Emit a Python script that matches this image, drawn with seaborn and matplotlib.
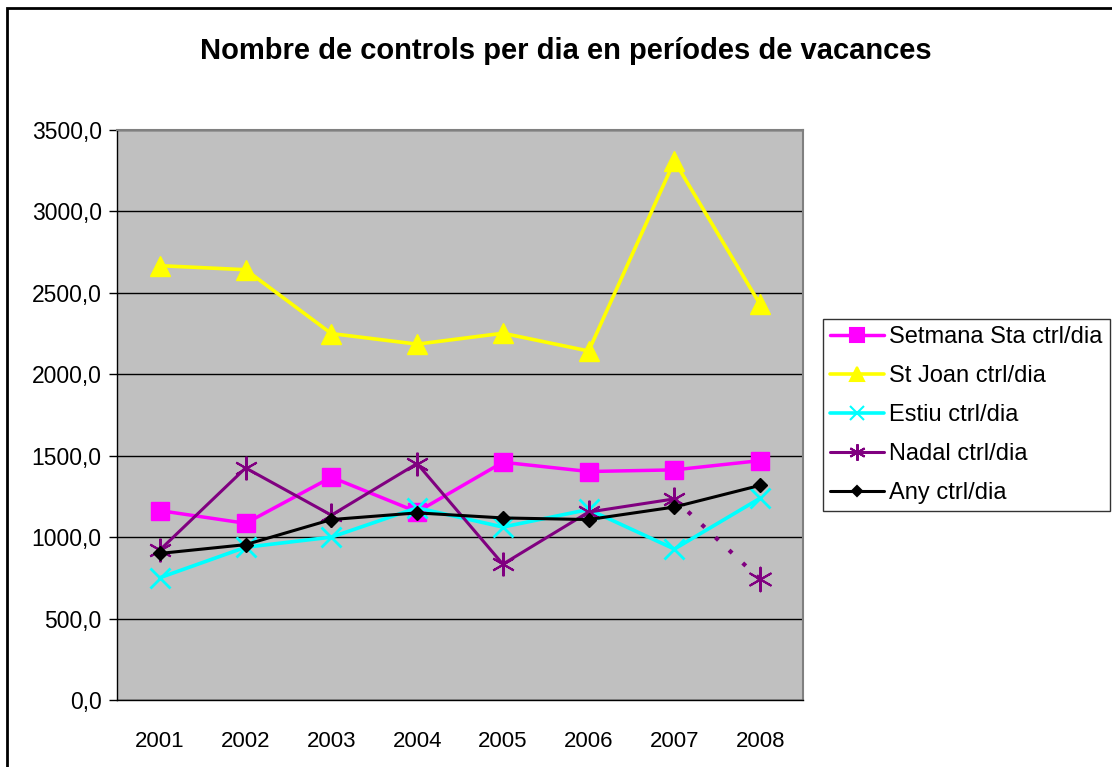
import matplotlib
matplotlib.use("Agg")
import matplotlib.pyplot as plt
import matplotlib.patches as mpatches
from matplotlib.ticker import FuncFormatter, FixedLocator
from matplotlib.lines import Line2D
import seaborn as sns
import pandas as pd
import numpy as np

years = ["2001", "2002", "2003", "2004", "2005", "2006", "2007", "2008"]
setmana = [1163, 1085, 1368, 1155, 1460, 1403, 1413, 1470]
st_joan = [2667, 2642, 2250, 2185, 2252, 2143, 3310, 2429]
estiu = [751, 938, 1000, 1180, 1062, 1170, 927, 1239]
nadal = [921, 1425, 1135, 1452, 834, 1154, 1235, 741]
any_ = [900, 954, 1108, 1149, 1118, 1108, 1185, 1318]

title = "Nombre de controls per dia en períodes de vacances"

sns.set_theme(style="white")
plt.rcParams["font.family"] = ["Liberation Sans", "DejaVu Sans"]
plt.rcParams["text.color"] = "black"

fig = plt.figure(figsize=(11.12, 7.67), dpi=100)
ax = fig.add_axes([117/1112, 1-700/767, (803-117)/1112, (700-130)/767])
ax.set_facecolor("#C0C0C0")

x = np.arange(len(years))
asterisk = (6, 2, 0)

series = [
    ("Setmana Sta ctrl/dia", setmana, "#FF00FF", "s", 13.5, 2.5),
    ("St Joan ctrl/dia", st_joan, "#FFFF00", "^", 15, 2.6),
    ("Estiu ctrl/dia", estiu, "#00FFFF", "x", 14, 2.6),
    ("Nadal ctrl/dia", nadal, "#800080", asterisk, 17, 2.2),
    ("Any ctrl/dia", any_, "#000000", "D", 7.5, 2.2),
]

handles = []
for name, vals, col, mk, ms, lw in series:
    df = pd.DataFrame({"x": x, "y": vals})
    if name.startswith("Nadal"):
        sns.lineplot(data=df.iloc[:7], x="x", y="y", ax=ax, color=col, lw=lw,
                     marker=mk, markersize=ms, markeredgecolor=col,
                     markeredgewidth=1.5, zorder=3)
        sns.lineplot(data=df.iloc[6:], x="x", y="y", ax=ax, color=col, lw=3,
                     linestyle=(0, (1, 3.5)), zorder=3)
        sns.scatterplot(data=df.iloc[7:], x="x", y="y", ax=ax, color=col,
                        marker=mk, s=ms**2, edgecolor=col, linewidth=1.5, zorder=4)
    else:
        sns.lineplot(data=df, x="x", y="y", ax=ax, color=col, lw=lw,
                     marker=mk, markersize=ms, markeredgecolor=col,
                     markeredgewidth=2 if mk == "x" else 1.0, zorder=3)
    handles.append(Line2D([], [], color=col, lw=lw, marker=mk,
                          markersize=ms*0.7, markeredgecolor=col,
                          markeredgewidth=1.5, label=name))

ax.set_xlim(-0.5, len(years) - 0.5)
ax.set_ylim(0, 3500)
ax.set_yticks(np.arange(0, 3501, 500))
ax.yaxis.set_major_formatter(FuncFormatter(lambda v, p: f"{v:.1f}".replace(".", ",")))
ax.set_xticks(x)
ax.set_xticklabels(years)
ax.xaxis.set_minor_locator(FixedLocator(np.arange(-0.5, len(years), 1.0)))
ax.tick_params(axis="x", which="major", length=0, labelsize=16, pad=22, labelcolor="black")
ax.tick_params(axis="x", which="minor", length=6, width=1, color="#000000", direction="out")
ax.tick_params(axis="y", which="major", length=6, width=1, color="#000000",
               direction="out", left=True, labelsize=16.5, pad=5, labelcolor="black")
ax.grid(axis="y", color="#000000", lw=1.0)
ax.set_axisbelow(True)
ax.set_xlabel("")
ax.set_ylabel("")
for s in ["top", "right"]:
    ax.spines[s].set_color("#808080")
    ax.spines[s].set_linewidth(1.5)
for s in ["left", "bottom"]:
    ax.spines[s].set_color("#000000")
    ax.spines[s].set_linewidth(1.0)

fig.text(566/1112, 1-51/767, title, ha="center", va="center",
         fontsize=21, fontweight="bold", color="black")

leg = fig.legend(handles=handles, loc="upper left",
                 bbox_to_anchor=(823/1112, 1-319/767), frameon=True,
                 fontsize=17, handlelength=2.3, handletextpad=0.2,
                 labelspacing=0.72, borderpad=0.3, borderaxespad=0,
                 fancybox=False)
leg.get_frame().set_edgecolor("#000000")
leg.get_frame().set_linewidth(1.0)
for t in leg.get_texts():
    t.set_color("black")

border = mpatches.Rectangle((7/1112, -0.05), 1.1, 1-8/767+0.05, transform=fig.transFigure,
                            fill=False, edgecolor="black", lw=2, clip_on=False)
fig.patches.append(border)

fig.savefig("out.png", dpi=100, facecolor="white")
